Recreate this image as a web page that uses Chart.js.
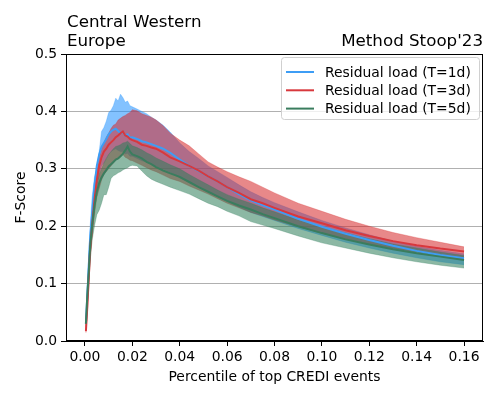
<!DOCTYPE html>
<html>
<head>
<meta charset="utf-8">
<script src="https://cdn.jsdelivr.net/npm/chart.js@4.4.1/dist/chart.umd.min.js"></script>
<style>
  body { margin: 0; background: #fff; }
</style>
</head>
<body>
<canvas id="chart" width="498" height="399"></canvas>
<script>
// percentile of top CREDI events (x)
const percentiles = [0.0004, 0.001, 0.0016, 0.0022, 0.003, 0.004, 0.005, 0.006, 0.007, 0.008,
  0.009, 0.010, 0.011, 0.012, 0.013, 0.014, 0.015, 0.016, 0.017, 0.018,
  0.019, 0.020, 0.022, 0.024, 0.026, 0.028, 0.030, 0.033, 0.036, 0.040,
  0.044, 0.048, 0.052, 0.056, 0.060, 0.065, 0.070, 0.075, 0.080, 0.090,
  0.100, 0.110, 0.120, 0.130, 0.140, 0.150, 0.160];

// T=1d
const load1dMean = [0.030, 0.080, 0.130, 0.180, 0.220, 0.270, 0.305, 0.325, 0.338, 0.345,
  0.352, 0.360, 0.365, 0.368, 0.370, 0.366, 0.362, 0.364, 0.358, 0.360,
  0.354, 0.355, 0.352, 0.348, 0.346, 0.343, 0.340, 0.335, 0.328, 0.316,
  0.305, 0.296, 0.287, 0.278, 0.268, 0.256, 0.245, 0.237, 0.229, 0.213,
  0.199, 0.187, 0.176, 0.166, 0.157, 0.150, 0.144];
const load1dUpper = [0.035, 0.090, 0.150, 0.200, 0.250, 0.285, 0.300, 0.330, 0.365, 0.372,
  0.383, 0.398, 0.402, 0.410, 0.423, 0.418, 0.430, 0.424, 0.416, 0.418,
  0.410, 0.408, 0.404, 0.400, 0.396, 0.390, 0.385, 0.376, 0.364, 0.345,
  0.330, 0.318, 0.305, 0.295, 0.285, 0.272, 0.260, 0.250, 0.241, 0.225,
  0.210, 0.197, 0.185, 0.174, 0.165, 0.158, 0.152];
const load1dLower = [0.025, 0.070, 0.115, 0.160, 0.200, 0.245, 0.270, 0.290, 0.305, 0.310,
  0.318, 0.325, 0.330, 0.333, 0.335, 0.332, 0.330, 0.330, 0.326, 0.327,
  0.322, 0.322, 0.318, 0.314, 0.312, 0.308, 0.305, 0.300, 0.294, 0.284,
  0.276, 0.268, 0.260, 0.251, 0.243, 0.233, 0.224, 0.217, 0.210, 0.196,
  0.184, 0.172, 0.162, 0.153, 0.145, 0.138, 0.133];

// T=3d
const load3dMean = [0.017, 0.060, 0.110, 0.160, 0.200, 0.245, 0.280, 0.305, 0.320, 0.330,
  0.335, 0.342, 0.346, 0.350, 0.355, 0.358, 0.362, 0.365, 0.358, 0.356,
  0.352, 0.350, 0.347, 0.342, 0.340, 0.337, 0.335, 0.328, 0.320, 0.313,
  0.305, 0.297, 0.287, 0.278, 0.268, 0.258, 0.247, 0.240, 0.232, 0.217,
  0.205, 0.193, 0.183, 0.174, 0.167, 0.161, 0.156];
const load3dUpper = [0.020, 0.070, 0.125, 0.175, 0.215, 0.260, 0.295, 0.320, 0.335, 0.345,
  0.355, 0.362, 0.370, 0.376, 0.378, 0.385, 0.388, 0.391, 0.393, 0.396,
  0.398, 0.403, 0.401, 0.396, 0.393, 0.390, 0.385, 0.375, 0.362, 0.350,
  0.340, 0.326, 0.312, 0.303, 0.295, 0.286, 0.278, 0.268, 0.258, 0.240,
  0.226, 0.212, 0.200, 0.189, 0.180, 0.172, 0.164];
const load3dLower = [0.014, 0.050, 0.095, 0.140, 0.180, 0.220, 0.250, 0.265, 0.280, 0.290,
  0.295, 0.300, 0.305, 0.310, 0.315, 0.318, 0.322, 0.325, 0.320, 0.318,
  0.315, 0.314, 0.310, 0.306, 0.302, 0.298, 0.295, 0.289, 0.283, 0.278,
  0.270, 0.263, 0.256, 0.248, 0.240, 0.232, 0.224, 0.218, 0.211, 0.199,
  0.188, 0.178, 0.169, 0.161, 0.155, 0.150, 0.146];

// T=5d
const load5dMean = [0.030, 0.080, 0.120, 0.165, 0.200, 0.235, 0.260, 0.275, 0.285, 0.292,
  0.298, 0.304, 0.308, 0.312, 0.316, 0.318, 0.322, 0.326, 0.332, 0.339,
  0.330, 0.325, 0.322, 0.318, 0.312, 0.308, 0.303, 0.297, 0.292, 0.286,
  0.277, 0.268, 0.260, 0.252, 0.244, 0.236, 0.229, 0.221, 0.214, 0.200,
  0.188, 0.177, 0.168, 0.160, 0.153, 0.147, 0.141];
const load5dUpper = [0.035, 0.090, 0.135, 0.180, 0.215, 0.250, 0.275, 0.290, 0.300, 0.310,
  0.318, 0.325, 0.330, 0.335, 0.339, 0.340, 0.342, 0.345, 0.346, 0.348,
  0.344, 0.340, 0.337, 0.333, 0.328, 0.324, 0.319, 0.313, 0.307, 0.300,
  0.290, 0.281, 0.272, 0.263, 0.255, 0.247, 0.240, 0.232, 0.225, 0.211,
  0.199, 0.188, 0.178, 0.169, 0.162, 0.155, 0.149];
const load5dLower = [0.025, 0.065, 0.100, 0.140, 0.175, 0.200, 0.220, 0.228, 0.240, 0.255,
  0.255, 0.268, 0.283, 0.288, 0.290, 0.293, 0.295, 0.298, 0.300, 0.302,
  0.305, 0.306, 0.305, 0.296, 0.288, 0.282, 0.278, 0.273, 0.268, 0.262,
  0.256, 0.248, 0.240, 0.234, 0.226, 0.218, 0.208, 0.202, 0.196, 0.183,
  0.171, 0.162, 0.153, 0.145, 0.138, 0.132, 0.127];

const seriesLabels = ['Residual load (T=1d)', 'Residual load (T=3d)', 'Residual load (T=5d)'];
const xTicks = [0, 0.02, 0.04, 0.06, 0.08, 0.10, 0.12, 0.14, 0.16];
const yTicks = [0, 0.1, 0.2, 0.3, 0.4, 0.5];

const lineColors = ['#3d9df5', '#d8383d', '#3a7d5e'];
const bandColors = ['rgba(30,144,255,0.55)', 'rgba(214,39,40,0.55)', 'rgba(46,125,90,0.55)'];

function points(values) {
  return values.map((v, i) => ({ x: percentiles[i], y: v }));
}

const bands = [
  [load1dLower, load1dUpper],
  [load3dLower, load3dUpper],
  [load5dLower, load5dUpper]
];
const means = [load1dMean, load3dMean, load5dMean];

const datasets = [];
// bands first: lower edge + upper edge filled down to it
bands.forEach((b, i) => {
  const lowerIndex = datasets.length;
  datasets.push({
    data: points(b[0]), borderColor: bandColors[i], borderWidth: 0.5,
    pointRadius: 0, fill: false, order: 30 - i * 2
  });
  datasets.push({
    data: points(b[1]), borderColor: bandColors[i], borderWidth: 0.5,
    backgroundColor: bandColors[i], pointRadius: 0,
    fill: { target: lowerIndex }, order: 29 - i * 2
  });
});
// mean lines on top
means.forEach((m, i) => {
  datasets.push({
    label: seriesLabels[i], data: points(m), borderColor: lineColors[i],
    borderWidth: 2, pointRadius: 0, fill: false, order: 3 - i
  });
});

// titles, frame and the legend box inside the plot
const decorations = {
  id: 'decorations',
  beforeDraw(chart) {
    const ctx = chart.ctx;
    ctx.save();
    ctx.fillStyle = '#fff';
    ctx.fillRect(0, 0, chart.width, chart.height);
    ctx.restore();
  },
  afterDraw(chart) {
    const ctx = chart.ctx;
    const a = chart.chartArea;
    ctx.save();
    ctx.strokeStyle = '#000';
    ctx.lineWidth = 1;
    ctx.strokeRect(Math.round(a.left) + 0.5, Math.round(a.top) + 0.5,
      Math.round(a.right - a.left) - 1, Math.round(a.bottom - a.top) - 1);

    ctx.fillStyle = '#000';
    ctx.font = '16.7px "DejaVu Sans"';
    ctx.textBaseline = 'alphabetic';
    ctx.textAlign = 'left';
    ctx.fillText('Central Western', a.left + 1, 27);
    ctx.fillText('Europe', a.left + 1, 46);
    ctx.textAlign = 'right';
    ctx.fillText("Method Stoop'23", a.right, 46);

    // legend
    const box = { x: 281, y: 57, w: 198, h: 62 };
    ctx.beginPath();
    ctx.roundRect(box.x + 0.5, box.y + 0.5, box.w, box.h, 3);
    ctx.fillStyle = 'rgba(255,255,255,0.8)';
    ctx.fill();
    ctx.strokeStyle = '#d0d0d0';
    ctx.stroke();
    ctx.font = '13.9px "DejaVu Sans"';
    ctx.textAlign = 'left';
    ctx.textBaseline = 'middle';
    seriesLabels.forEach((label, i) => {
      const y = 72 + i * 18.3;
      ctx.strokeStyle = lineColors[i];
      ctx.lineWidth = 2;
      ctx.beginPath();
      ctx.moveTo(286, y);
      ctx.lineTo(314, y);
      ctx.stroke();
      ctx.fillStyle = '#000';
      ctx.fillText(label, 325, y + 1);
    });
    ctx.restore();
  }
};

Chart.defaults.font.family = '"DejaVu Sans"';
Chart.defaults.color = '#000';

new Chart(document.getElementById('chart'), {
  type: 'line',
  data: { datasets: datasets },
  plugins: [decorations],
  options: {
    responsive: false,
    animation: false,
    devicePixelRatio: 1,
    layout: { padding: { top: 54, right: 15, left: 0, bottom: 0 } },
    plugins: { legend: { display: false }, tooltip: { enabled: false } },
    elements: { line: { tension: 0 } },
    scales: {
      x: {
        type: 'linear',
        min: -0.008,
        max: 0.168,
        afterBuildTicks(scale) { scale.ticks = xTicks.map(v => ({ value: v })); },
        afterFit(scale) { scale.height = 58; },
        ticks: {
          font: { size: 13.9 },
          padding: 3,
          maxRotation: 0,
          callback: v => v.toFixed(2)
        },
        grid: { drawOnChartArea: false, tickLength: 5, tickColor: '#000' },
        border: { color: '#000', width: 1 },
        title: {
          display: true,
          text: 'Percentile of top CREDI events',
          font: { size: 13.9 },
          padding: { top: 13, bottom: 13 }
        }
      },
      y: {
        min: 0,
        max: 0.5,
        afterBuildTicks(scale) { scale.ticks = yTicks.map(v => ({ value: v })); },
        afterFit(scale) { scale.width = 66; },
        ticks: {
          font: { size: 13.9 },
          padding: 4,
          callback: v => v.toFixed(1)
        },
        grid: { color: '#b0b0b0', lineWidth: 1, tickLength: 5, tickColor: '#000' },
        border: { color: '#000', width: 1 },
        title: {
          display: true,
          text: 'F-Score',
          font: { size: 13.9 },
          padding: { top: 13, bottom: 0 }
        }
      }
    }
  }
});
</script>
</body>
</html>
